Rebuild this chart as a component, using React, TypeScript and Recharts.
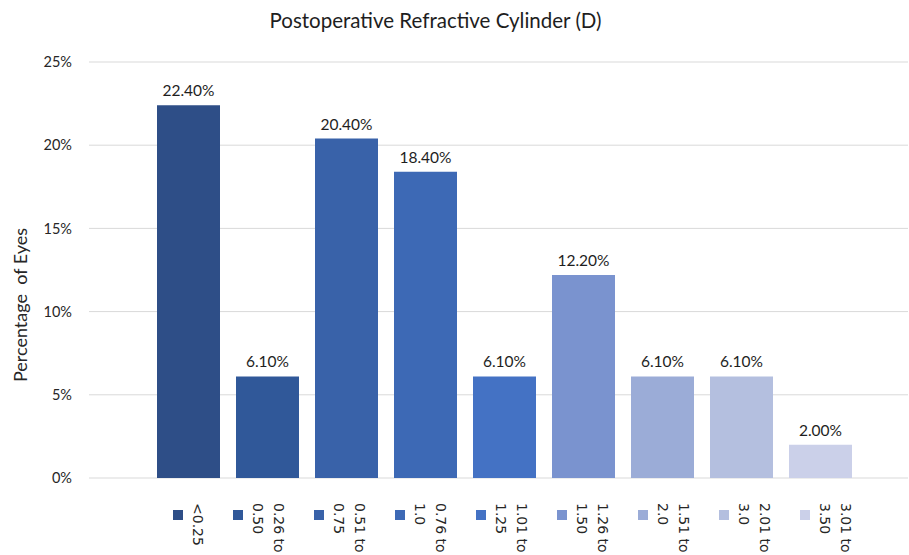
import { BarChart, Bar, XAxis, YAxis, CartesianGrid, Legend, LabelList } from 'recharts'

const CATEGORIES = [
  '<0.25', '0.26 to 0.50', '0.51 to 0.75', '0.76 to 1.0', '1.01 to 1.25',
  '1.26 to 1.50', '1.51 to 2.0', '2.01 to 3.0', '3.01 to 3.50',
]
const PERCENT_EYES = [22.4, 6.1, 20.4, 18.4, 6.1, 12.2, 6.1, 6.1, 2.0]
const Y_TICKS = [0, 5, 10, 15, 20, 25]

const COLORS = [
  '#2e4e87', '#305899', '#3962a9', '#3d69b5', '#4472c4',
  '#7a93cf', '#9bacd7', '#b4bfdf', '#cbd0e9',
]

// one row, one series per bin (that is how the legend gets its entries)
const row: Record<string, string | number> = { name: 'cyl' }
PERCENT_EYES.forEach((v, i) => { row[`s${i}`] = v })
const data = [row]

const FONT = 'Lato, "Open Sans", sans-serif'

function RotatedLegend({ payload }: { payload?: Array<{ value: string; color: string }> }) {
  if (!payload) return null
  const items = [...payload].sort((a, b) => CATEGORIES.indexOf(a.value) - CATEGORIES.indexOf(b.value))
  return (
    <div style={{ height: 0, overflow: 'visible' }}>
      <div style={{ display: 'flex', alignItems: 'flex-start', paddingLeft: 173 }}>
        {items.map((p) => (
          <div key={p.value} style={{ display: 'flex', alignItems: 'flex-start', marginRight: 25 }}>
            <div style={{ width: 10, height: 10, background: p.color, marginTop: 7, marginRight: 4 }} />
            <div
              style={{
                writingMode: 'vertical-rl',
                whiteSpace: 'pre',
                fontFamily: '"DejaVu Sans", sans-serif',
                fontSize: 14,
                lineHeight: '21px',
                color: '#262626',
              }}
            >
              {p.value.replace(' to ', ' to\n')}
            </div>
          </div>
        ))}
      </div>
    </div>
  )
}

export default function App() {
  return (
    <div style={{ position: 'absolute', left: 0, top: 0, width: 909, height: 555, background: '#fff' }}>
      <div
        style={{
          position: 'absolute', left: 0, top: 9, width: 871, textAlign: 'center',
          fontFamily: FONT, fontSize: 20.5, lineHeight: '22px', color: '#1e1e1e',
        }}
      >
        Postoperative Refractive Cylinder (D)
      </div>
      <BarChart
        width={909}
        height={555}
        data={data}
        margin={{ top: 62, right: 1, bottom: 77, left: 9 }}
        barSize={63}
        barGap={16}
      >
        <CartesianGrid vertical={false} stroke="#d9d9d9" />
        <XAxis
          dataKey="name"
          tick={false}
          tickLine={false}
          axisLine={{ stroke: '#d9d9d9' }}
          height={0}
          padding={{ left: 12, right: 0 }}
        />
        <YAxis
          width={80}
          domain={[0, 25]}
          ticks={Y_TICKS}
          tickFormatter={(v: number) => `${v}%`}
          axisLine={false}
          tickLine={false}
          tickSize={0}
          tickMargin={17}
          tick={{ fill: '#262626', fontSize: 14.5, fontFamily: FONT }}
          label={{
            content: () => (
              <text
                x={20}
                y={305}
                transform="rotate(-90 20 305)"
                textAnchor="middle"
                dominantBaseline="central"
                fill="#262626"
                fontSize={18}
                fontFamily={FONT}
                style={{ whiteSpace: 'pre' }}
              >
                Percentage  of Eyes
              </text>
            ),
          }}
        />
        <Legend
          content={<RotatedLegend />}
          wrapperStyle={{ top: 503, left: 0, width: 909 }}
        />
        {CATEGORIES.map((c, i) => (
          <Bar key={c} dataKey={`s${i}`} name={c} fill={COLORS[i]} isAnimationActive={false}>
            <LabelList
              dataKey={`s${i}`}
              position="top"
              offset={9}
              formatter={(v: number) => `${v.toFixed(2)}%`}
              style={{ fill: '#1e1e1e', fontSize: 15.5, fontFamily: FONT }}
            />
          </Bar>
        ))}
      </BarChart>
    </div>
  )
}
